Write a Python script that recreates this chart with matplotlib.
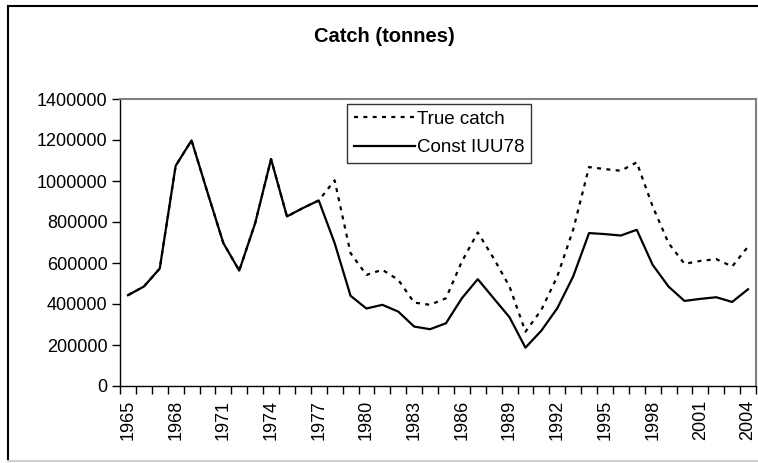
import matplotlib
matplotlib.use('Agg')
import matplotlib.pyplot as plt
import numpy as np
from matplotlib.lines import Line2D

plt.rcParams['font.family'] = ['Liberation Sans', 'DejaVu Sans']

years = list(range(1965, 2005))

# Const IUU78 (solid)
const_iuu78 = [443000, 485000, 573000, 1074000, 1198000, 945000, 697000, 563000,
               794000, 1107000, 827000, 868000, 905000, 697000, 440000, 378000,
               396000, 363000, 290000, 277000, 306000, 428000, 521000, 428000,
               335000, 187000, 270000, 379000, 534000, 746000, 741000, 734000,
               762000, 591000, 485000, 415000, 425000, 433000, 410000, 472000]

# True catch (dotted) - same as const until 1977
true_catch = [443000, 485000, 573000, 1074000, 1198000, 945000, 697000, 563000,
              794000, 1107000, 827000, 868000, 905000, 1003000, 648000, 542000,
              567000, 518000, 407000, 396000, 428000, 607000, 749000, 623000,
              485000, 265000, 371000, 534000, 762000, 1068000, 1058000, 1050000,
              1091000, 876000, 697000, 596000, 610000, 619000, 583000, 680000]

yticks = [0, 200000, 400000, 600000, 800000, 1000000, 1200000, 1400000]

W, H = 758, 463
fig = plt.figure(figsize=(W / 100, H / 100), dpi=100)

# plot area in pixels
x0, x1, ytop, ybot = 120, 756, 99, 386
ax = fig.add_axes([x0 / W, (H - ybot) / H, (x1 - x0) / W, (ybot - ytop) / H])

x = np.arange(len(years))
ax.plot(x, true_catch, color='k', linewidth=1.6, linestyle=(0, (1.8, 2.4)),
        label='True catch')
ax.plot(x, const_iuu78, color='k', linewidth=1.6, label='Const IUU78')

ax.set_xlim(-0.5, len(years) - 0.5)
ax.set_ylim(0, 1400000)
ax.set_yticks(yticks)
ax.set_yticklabels([str(v) for v in yticks], fontsize=13)

# category labels every 3 years, tick marks between categories
ax.set_xticks(x[::3])
ax.set_xticklabels([str(y) for y in years[::3]], rotation=90, fontsize=13)
ax.set_xticks(np.arange(-0.5, len(years)), minor=True)
ax.tick_params(axis='x', which='major', length=0, pad=10)
ax.tick_params(axis='x', which='minor', length=6, width=1, direction='out')
ax.tick_params(axis='y', length=6, width=1, direction='out', pad=3)

for s in ['top', 'right']:
    ax.spines[s].set_color('#808080')
    ax.spines[s].set_linewidth(1.5)
for s in ['left', 'bottom']:
    ax.spines[s].set_color('k')
    ax.spines[s].set_linewidth(1)

leg = ax.legend(loc='upper left', bbox_to_anchor=((347 - x0) / (x1 - x0), (ybot - 104) / (ybot - ytop)),
                fontsize=13.5, frameon=True, fancybox=False, handlelength=3.3,
                handletextpad=0.1, borderpad=0.35, labelspacing=0.6, borderaxespad=0)
leg.get_frame().set_edgecolor('k')
leg.get_frame().set_linewidth(1)

fig.text(384 / W, 1 - 37 / H, 'Catch (tonnes)', ha='center', va='center',
         fontsize=14.5, fontweight='bold')

# chart area border
fig.add_artist(Line2D([8 / W, 1], [1 - 6 / H, 1 - 6 / H], color='k', linewidth=1.5))
fig.add_artist(Line2D([8 / W, 8 / W], [1 - 6 / H, 1 - 461 / H], color='k', linewidth=1.5))
fig.add_artist(Line2D([8 / W, 1], [1 - 461 / H, 1 - 461 / H], color='#d0d0d0', linewidth=1.5))

fig.savefig('out.png', dpi=100)
